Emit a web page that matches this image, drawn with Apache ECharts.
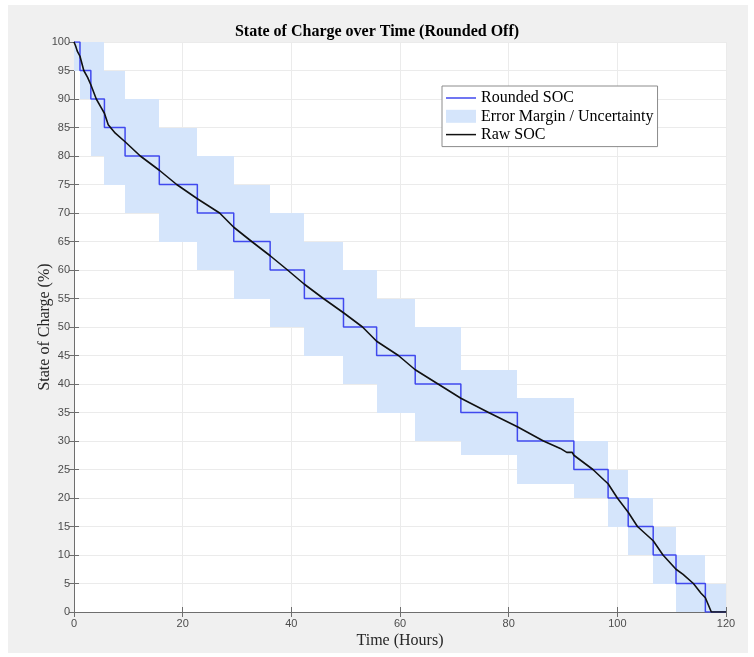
<!DOCTYPE html>
<html>
<head>
<meta charset="utf-8">
<title>State of Charge over Time (Rounded Off)</title>
<script src="https://cdn.jsdelivr.net/npm/echarts@6/dist/echarts.min.js"></script>
<style>
    html, body { margin: 0; padding: 0; background: #fff; }
    #frame { position: absolute; left: 8px; top: 5px; width: 740px; height: 648px; background: #f0f0f0; }
    #chart { position: absolute; left: 0; top: 0; width: 754px; height: 657px; }
</style>
</head>
<body>
<div id="frame"></div>
<div id="chart"></div>
<script>
    // rounded SOC: value held from stepEdges[i] to stepEdges[i+1]
    var stepEdges = [0, 1.1, 3.1, 5.6, 9.4, 15.7, 22.7, 29.4, 36.1, 42.4, 49.6, 55.7, 62.8, 71.2, 81.6, 92.0, 98.3, 102.0, 106.6, 110.8, 116.2, 120];
    var roundedSoc = [100, 95, 90, 85, 80, 75, 70, 65, 60, 55, 50, 45, 40, 35, 30, 25, 20, 15, 10, 5, 0];
    // half height of the shaded band for every step
    var marginHalf = [5, 5, 10, 10, 10, 10, 10, 10, 10, 10, 10, 10, 10, 7.5, 7.5, 5, 5, 5, 5, 5, 5];

    // raw SOC
    var rawTime = [0, 0.3, 0.6, 1.1, 1.8, 2.5, 3.1, 4.1, 5.0, 5.6, 6.3, 7.6, 9.4, 12.2, 15.7, 18.9, 22.7, 26.8, 29.4, 32.7, 36.1, 39.3, 42.4, 45.9, 49.6, 53.1, 55.7, 59.7, 62.8, 67.0, 71.2, 76.3, 81.6, 86.4, 89.5, 90.7, 91.7, 92.0, 95.5, 97.5, 98.3, 100.0, 102.0, 103.7, 106.6, 108.4, 110.8, 112.1, 114.0, 115.4, 116.2, 117.3, 120];
    var rawSoc = [100, 99.3, 98.4, 97.5, 95, 93.8, 92.5, 90, 88.5, 87.5, 85.5, 84, 82.5, 80, 77.5, 75, 72.5, 70, 67.5, 65, 62.5, 60, 57.5, 55, 52.5, 50, 47.5, 45, 42.5, 40, 37.5, 35, 32.5, 30, 28.7, 28, 28, 27.5, 25, 23.2, 22.5, 20, 17.5, 15, 12.5, 10, 7.5, 6.6, 5, 3.3, 2.5, 0, 0];

    var xMin = 0, xMax = 120, xStep = 20;
    var yMin = 0, yMax = 100, yStep = 5;

    var marginColor = '#d5e5fb',
        roundColor = '#4049ee',
        rawColor = '#111111',
        axisColor = '#6e6e6e',
        gridColor = '#ebebeb',
        serif = 'Liberation Serif',
        sans = 'Liberation Sans';

    // plain line used as legend icon for the two line series
    var lineIcon = 'path://M0,0 L30,0 L30,1.5 L0,1.5 Z';

    var roundData = roundedSoc.map(function (v, i) {
        return [stepEdges[i], v];
    });
    roundData.push([stepEdges[stepEdges.length - 1], roundedSoc[roundedSoc.length - 1]]);

    var marginData = roundedSoc.map(function (v, i) {
        return [stepEdges[i], stepEdges[i + 1], v - marginHalf[i], v + marginHalf[i]];
    });

    var rawData = rawTime.map(function (t, i) {
        return [t, rawSoc[i]];
    });

    var my_chart = echarts.init(document.getElementById('chart'));

    function boxAxis(extra) {
        var base = {
            type: 'value',
            axisLine: {show: true, lineStyle: {color: axisColor, width: 1}},
            axisTick: {show: true, inside: true, length: 5, lineStyle: {color: axisColor}},
            axisLabel: {show: false},
            splitLine: {show: false}
        };
        for (var k in extra) base[k] = extra[k];
        return base;
    }

    var option = {
        animation: false,
        title: {
            text: 'State of Charge over Time (Rounded Off)',
            left: 'center',
            top: 24,
            padding: 0,
            textStyle: {fontFamily: serif, fontSize: 16, fontWeight: 'bold', color: '#000'}
        },
        legend: {
            left: 442,
            top: 86,
            orient: 'vertical',
            itemWidth: 30,
            itemHeight: 13,
            itemGap: 2.3,
            padding: [4, 4, 4, 4],
            backgroundColor: '#fff',
            borderColor: '#8c8c8c',
            borderWidth: 1,
            textStyle: {fontFamily: serif, fontSize: 16, color: '#000'},
            data: [
                {name: 'Rounded SOC', icon: lineIcon},
                {name: 'Error Margin / Uncertainty', icon: 'rect'},
                {name: 'Raw SOC', icon: lineIcon}
            ]
        },
        grid: {
            left: 74, right: 28, top: 42, bottom: 45,
            show: true, backgroundColor: '#fff', borderWidth: 0
        },
        xAxis: [
            boxAxis({
                position: 'bottom',
                min: xMin, max: xMax, interval: xStep,
                name: 'Time (Hours)',
                nameLocation: 'middle',
                nameGap: 21,
                nameMoveOverlap: false,
                nameTextStyle: {fontFamily: serif, fontSize: 16, color: '#262626'},
                axisLabel: {show: true, fontFamily: sans, fontSize: 11, color: '#4d4d4d', margin: 6},
                splitLine: {show: true, lineStyle: {color: gridColor}}
            }),
            boxAxis({position: 'top', min: xMin, max: xMax, interval: xStep})
        ],
        yAxis: [
            boxAxis({
                position: 'left',
                min: yMin, max: yMax, interval: yStep,
                name: 'State of Charge (%)',
                nameLocation: 'middle',
                nameGap: 21,
                nameMoveOverlap: false,
                nameTextStyle: {fontFamily: serif, fontSize: 16, color: '#262626'},
                axisLabel: {show: true, fontFamily: sans, fontSize: 11, color: '#4d4d4d', margin: 4},
                splitLine: {show: true, lineStyle: {color: gridColor}}
            }),
            boxAxis({position: 'right', min: yMin, max: yMax, interval: yStep})
        ],
        series: [
            {
                name: 'Error Margin / Uncertainty',
                type: 'custom',
                z: 1,
                itemStyle: {color: marginColor},
                encode: {x: [0, 1], y: [2, 3]},
                data: marginData,
                renderItem: function (params, api) {
                    var p0 = api.coord([api.value(0), api.value(3)]);
                    var p1 = api.coord([api.value(1), api.value(2)]);
                    var x0 = Math.round(p0[0]), y0 = Math.round(p0[1]);
                    var x1 = Math.round(p1[0]), y1 = Math.round(p1[1]);
                    var rect = echarts.graphic.clipRectByRect(
                        {x: x0, y: y0, width: x1 - x0, height: y1 - y0},
                        {
                            x: params.coordSys.x,
                            y: params.coordSys.y,
                            width: params.coordSys.width,
                            height: params.coordSys.height
                        }
                    );
                    return rect && {type: 'rect', shape: rect, style: {fill: marginColor}};
                }
            },
            {
                name: 'Rounded SOC',
                type: 'line',
                step: 'end',
                z: 3,
                symbol: 'none',
                color: roundColor,
                lineStyle: {color: roundColor, width: 1.5},
                data: roundData
            },
            {
                name: 'Raw SOC',
                type: 'line',
                z: 4,
                symbol: 'none',
                color: rawColor,
                lineStyle: {color: rawColor, width: 1.6},
                data: rawData
            }
        ]
    };

    my_chart.setOption(option);
    window.addEventListener('resize', function () {
        my_chart.resize();
    });
</script>
</body>
</html>
